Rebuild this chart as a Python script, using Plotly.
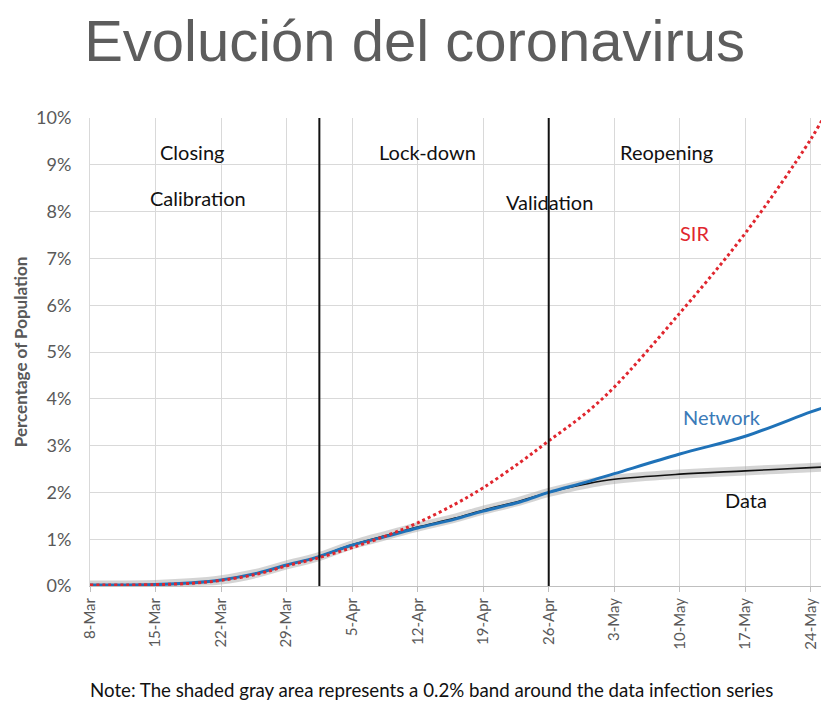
import plotly.graph_objects as go

dates = ["2020-03-08", "2020-03-15", "2020-03-19", "2020-03-22", "2020-03-26", "2020-03-29",
         "2020-04-01", "2020-04-05", "2020-04-09", "2020-04-12", "2020-04-16", "2020-04-19",
         "2020-04-23", "2020-04-26", "2020-04-30", "2020-05-03", "2020-05-10", "2020-05-17",
         "2020-05-24", "2020-05-26"]
data_pct = [0.02, 0.03, 0.07, 0.13, 0.28, 0.45, 0.60, 0.88, 1.10, 1.26, 1.45, 1.62,
            1.82, 2.00, 2.18, 2.28, 2.39, 2.46, 2.53, 2.55]
network_pct = [0.02, 0.03, 0.07, 0.13, 0.28, 0.45, 0.60, 0.87, 1.08, 1.24, 1.43, 1.60,
               1.80, 2.00, 2.22, 2.40, 2.82, 3.20, 3.72, 3.85]
sir_pct = [0.02, 0.03, 0.06, 0.12, 0.26, 0.43, 0.58, 0.82, 1.10, 1.35, 1.75, 2.10,
           2.65, 3.10, 3.70, 4.25, 5.83, 7.54, 9.55, 10.25]
band_half = 0.1

tick_dates = ["2020-03-08", "2020-03-15", "2020-03-22", "2020-03-29", "2020-04-05", "2020-04-12",
              "2020-04-19", "2020-04-26", "2020-05-03", "2020-05-10", "2020-05-17", "2020-05-24"]
tick_labels = ["8-Mar", "15-Mar", "22-Mar", "29-Mar", "5-Apr", "12-Apr",
               "19-Apr", "26-Apr", "3-May", "10-May", "17-May", "24-May"]
y_ticks = [0, 1, 2, 3, 4, 5, 6, 7, 8, 9, 10]
y_labels = [f"{v}%" for v in y_ticks]
phase_lines = ["2020-04-01 12:00", "2020-04-26"]

FONT = "Lato"
GRAY = "#595959"

fig = go.Figure()
upper = [v + band_half for v in data_pct]
lower = [max(v - band_half, 0) for v in data_pct]
fig.add_trace(go.Scatter(x=dates, y=upper, mode="lines", line=dict(width=0, shape="spline"),
                         hoverinfo="skip", showlegend=False))
fig.add_trace(go.Scatter(x=dates, y=lower, mode="lines", line=dict(width=0, shape="spline"),
                         fill="tonexty", fillcolor="rgba(170,170,170,0.5)",
                         hoverinfo="skip", showlegend=False))
fig.add_trace(go.Scatter(x=dates, y=data_pct, mode="lines", name="Data",
                         line=dict(color="#111111", width=1.6, shape="spline")))
fig.add_trace(go.Scatter(x=dates, y=network_pct, mode="lines", name="Network",
                         line=dict(color="#1f72b8", width=3, shape="spline")))
fig.add_trace(go.Scatter(x=dates, y=sir_pct, mode="lines", name="SIR",
                         line=dict(color="#e0262e", width=3, dash="dot", shape="spline")))

for d in phase_lines:
    fig.add_shape(type="line", xref="x", yref="paper", x0=d, x1=d, y0=0, y1=1,
                  line=dict(color="#111111", width=2))

ann = [
    ("Closing", "2020-03-18 22:00", 9.27, "#111111"),
    ("Calibration", "2020-03-19 12:00", 8.29, "#111111"),
    ("Lock-down", "2020-04-13 02:00", 9.27, "#111111"),
    ("Reopening", "2020-05-08 14:00", 9.27, "#111111"),
    ("Validation", "2020-04-26 02:00", 8.20, "#111111"),
    ("SIR", "2020-05-11 14:00", 7.54, "#e0262e"),
    ("Network", "2020-05-14 12:00", 3.61, "#3a7ab8"),
    ("Data", "2020-05-17 02:00", 1.84, "#111111"),
]
for text, x, y, c in ann:
    fig.add_annotation(x=x, y=y, xref="x", yref="y", text=text, showarrow=False,
                       font=dict(family=FONT, size=20, color=c))

fig.add_annotation(x=(431 - 90) / 731, y=(586 - 690) / 468, xref="paper", yref="paper",
                   yanchor="middle",
                   text="Note: The shaded gray area represents a 0.2% band around the data infection series",
                   showarrow=False, font=dict(family=FONT, size=18.7, color="#111111"))

fig.update_layout(
    width=821, height=701,
    margin=dict(l=90, r=0, t=118, b=115, autoexpand=False),
    paper_bgcolor="white", plot_bgcolor="white",
    showlegend=False,
    title=dict(text="Evolución del coronavirus", x=0.505, xref="container", xanchor="center",
               y=1 - 20 / 701, yref="container", yanchor="top",
               font=dict(family="Liberation Sans", size=58, color="#5d5d5d")),
    xaxis=dict(range=["2020-03-08", "2020-05-25 02:00"], tickvals=tick_dates, ticktext=tick_labels,
               tickangle=-90, showgrid=True, gridcolor="#d9d9d9", gridwidth=1, automargin=False,
               showline=True, linecolor="#bfbfbf", ticks="outside", tickcolor="#bfbfbf", ticklen=5,
               tickfont=dict(family=FONT, size=15, color=GRAY), zeroline=False),
    yaxis=dict(range=[0, 10], tickvals=y_ticks, ticktext=y_labels, showgrid=True, automargin=False,
               gridcolor="#d9d9d9", gridwidth=1, showline=True, linecolor="#d9d9d9",
               ticklabelstandoff=14,
               tickfont=dict(family=FONT, size=18, color=GRAY), zeroline=False,
               title=dict(text="<b>Percentage of Population</b>", standoff=4,
                          font=dict(family=FONT, size=17, color=GRAY))),
)

fig.write_html("out.html", config={"displayModeBar": False},
               post_script="document.body.style.margin='0';document.body.style.overflow='hidden';")
